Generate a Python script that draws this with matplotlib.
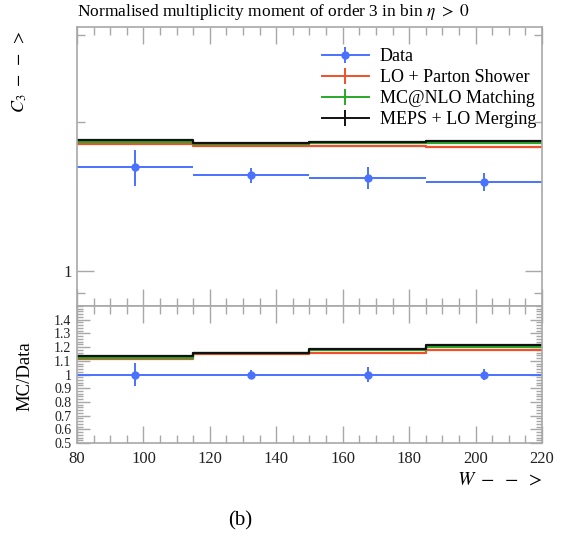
import matplotlib
matplotlib.use("Agg")
import matplotlib.pyplot as plt
import numpy as np
from matplotlib.lines import Line2D
from matplotlib.legend_handler import HandlerTuple
from matplotlib.ticker import FixedLocator, NullFormatter, MultipleLocator, FixedFormatter

plt.rcParams['font.family'] = ['Liberation Serif', 'DejaVu Serif']
plt.rcParams['mathtext.fontset'] = 'stix'

# Binning in W
bin_edges = [80, 115, 150, 185, 220]
bin_centres = [97.5, 132.5, 167.5, 202.5]

# Measured C3 and its uncertainty
data_vals = [1.62, 1.56, 1.54, 1.51]
data_errs = [0.135, 0.055, 0.08, 0.062]

# Generator predictions
lo_ps = [1.80, 1.788, 1.784, 1.78]
mcatnlo = [1.82, 1.80, 1.81, 1.815]
meps = [1.835, 1.81, 1.822, 1.833]

series_labels = ["Data", "LO + Parton Shower", "MC@NLO Matching", "MEPS + LO Merging"]
colors = ["#4a72ff", "#f0502a", "#2aa82a", "#111111"]

ratio_ticks = [0.5, 0.6, 0.7, 0.8, 0.9, 1.0, 1.1, 1.2, 1.3, 1.4]
ratio_labels = ["0.5", "0.6", "0.7", "0.8", "0.9", "1", "1.1", "1.2", "1.3", "1.4"]

W, H = 561, 544
fig = plt.figure(figsize=(W / 100, H / 100), dpi=100)

L, R = 77, 542
top_t, top_b = 27, 306
rat_b = 443
ax = fig.add_axes([L / W, 1 - top_b / H, (R - L) / W, (top_b - top_t) / H])
axr = fig.add_axes([L / W, 1 - rat_b / H, (R - L) / W, (rat_b - top_b) / H], sharex=ax)

frame_col = "#a8a8a8"
for a in (ax, axr):
    for s in a.spines.values():
        s.set_color(frame_col)
        s.set_linewidth(1.2)
    a.tick_params(which="both", direction="in", top=True, right=True,
                  color=frame_col, width=1.0, labelsize=12, labelcolor="#222222")
    a.tick_params(which="major", length=12)
    a.tick_params(which="minor", length=6)

def step_vals(v):
    return list(v) + [v[-1]]

# Upper panel
ax.set_yscale("log")
ax.set_xlim(80, 220)
ax.set_ylim(0.848, 3.11)
for vals, c in zip([lo_ps, mcatnlo, meps], colors[1:]):
    ax.step(bin_edges, step_vals(vals), where="post", color=c, lw=1.6)
ax.errorbar(bin_centres, data_vals, yerr=data_errs,
            xerr=[[c - e for c, e in zip(bin_centres, bin_edges[:-1])],
                  [e - c for c, e in zip(bin_centres, bin_edges[1:])]],
            fmt="o", color=colors[0], ms=5, lw=1.4, capsize=0)
ax.yaxis.set_major_locator(FixedLocator([1]))
ax.yaxis.set_major_formatter(FixedFormatter(["1"]))
ax.yaxis.set_minor_locator(FixedLocator([0.9, 2, 3]))
ax.yaxis.set_minor_formatter(NullFormatter())
ax.xaxis.set_major_locator(MultipleLocator(20))
ax.xaxis.set_minor_locator(MultipleLocator(5))
plt.setp(ax.get_xticklabels(), visible=False)

handles = []
h_data = (Line2D([], [], color=colors[0], lw=1.4, marker="|", ms=11, mew=1.4),
          Line2D([], [], color=colors[0], lw=0, marker="o", ms=5))
handles.append(h_data)
for c in colors[1:]:
    handles.append(Line2D([], [], color=c, lw=1.4, marker="|", ms=11, mew=1.4))
ax.legend(handles, series_labels, handler_map={tuple: HandlerTuple(ndivide=1)},
          loc="upper left", bbox_to_anchor=((322 - L) / (R - L), 1 - (48 - top_t) / (top_b - top_t)),
          frameon=False, fontsize=13, handlelength=2.6, handletextpad=0.6,
          labelspacing=0.22, borderaxespad=0, borderpad=0)

# Ratio panel
axr.set_ylim(0.5, 1.5)
for vals, c in zip([lo_ps, mcatnlo, meps], colors[1:]):
    r = [v / d for v, d in zip(vals, data_vals)]
    axr.step(bin_edges, step_vals(r), where="post", color=c, lw=1.6)
axr.errorbar(bin_centres, [1.0] * 4, yerr=[e / d for e, d in zip(data_errs, data_vals)],
             xerr=[[c - e for c, e in zip(bin_centres, bin_edges[:-1])],
                   [e - c for c, e in zip(bin_centres, bin_edges[1:])]],
             fmt="o", color=colors[0], ms=5, lw=1.4, capsize=0)
axr.yaxis.set_major_locator(FixedLocator(ratio_ticks))
axr.yaxis.set_major_formatter(FixedFormatter(ratio_labels))
axr.yaxis.set_minor_locator(MultipleLocator(0.02))
axr.tick_params(axis="y", which="major", length=9, labelsize=10)
axr.tick_params(axis="y", which="minor", length=4.5)
axr.xaxis.set_major_locator(MultipleLocator(20))
axr.xaxis.set_minor_locator(MultipleLocator(5))
axr.tick_params(axis="x", pad=6)
axr.tick_params(axis="y", pad=4)

# Labels
fig.text(L / W, 1 - 12 / H, r"Normalised multiplicity moment of order 3 in bin $\eta\ >\ 0$",
         ha="left", va="center", fontsize=12.5)
fig.text(20 / W, 1 - 30 / H, r"$C_3\ -\ -\ >$", rotation=90, ha="center", va="top", fontsize=13)
fig.text(25 / W, 1 - 376 / H, "MC/Data", rotation=90, ha="center", va="center", fontsize=13.5)
fig.text(R / W, 1 - 480 / H, r"$W\ -\ -\ >$", ha="right", va="center", fontsize=14)
fig.text(240 / W, 1 - 521 / H, "(b)", ha="center", va="center", fontsize=15)

fig.savefig("out.png", dpi=100)
